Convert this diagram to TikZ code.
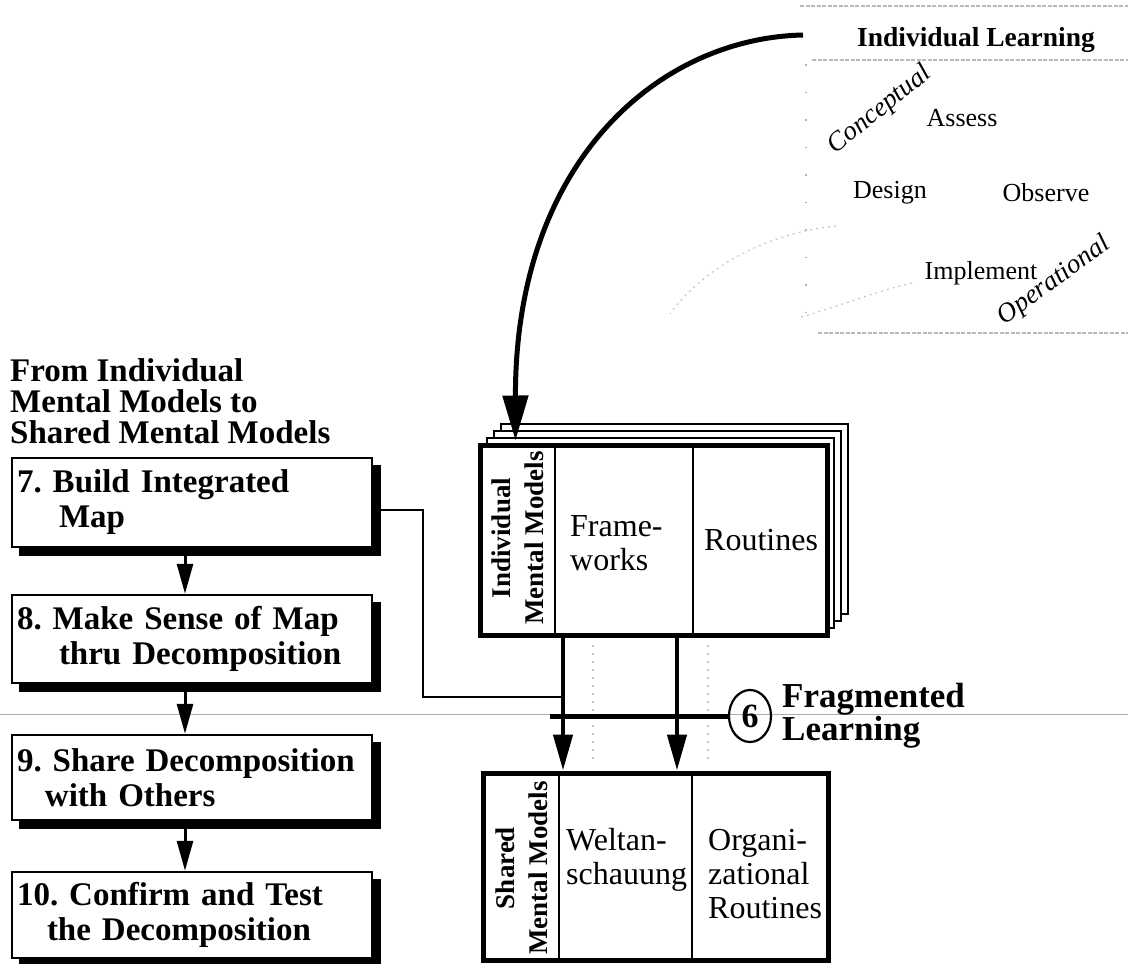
\documentclass[tikz,border=0pt]{standalone}
\usepackage{fontspec}
\setmainfont{Liberation Serif}
\usetikzlibrary{arrows.meta,shapes.geometric,backgrounds,calc}
\frenchspacing
\begin{document}
\begin{tikzpicture}[x=1pt,y=-1pt,
  stepbox/.style={draw,line width=2.5pt,fill=white,minimum width=360pt,
    text width=350pt,inner xsep=5pt,inner ysep=0pt,align=left,
    font=\bfseries\fontsize{33}{35}\selectfont},
  modelbox/.style={draw,line width=5pt,fill=white,inner sep=0pt},
  divider/.style={line width=2.5pt},
  layer/.style={draw,line width=1.4pt,fill=white},
  sidelabel/.style={rotate=90,align=center,inner sep=0pt,
    font=\bfseries\fontsize{27}{33}\selectfont},
  cell/.style={anchor=west,align=left,inner sep=0pt,
    font=\fontsize{32}{34}\selectfont},
  cycle/.style={inner sep=0pt,font=\fontsize{26}{28}\selectfont},
  mode/.style={inner sep=0pt,font=\itshape\fontsize{27}{28}\selectfont},
  smallarr/.style={line width=3pt,-{Triangle[length=30pt,width=16pt]}},
  bigarr/.style={line width=4.5pt,-{Triangle[length=36pt,width=19pt]}},
  curvearr/.style={line width=5pt,-{Triangle[length=45pt,width=25pt]}},
  conn/.style={line width=2.5pt},
  frameline/.style={gray!55,line width=1.2pt,dash pattern=on 4pt off 1.5pt},
  sparse/.style={gray!60,line width=1.2pt,dash pattern=on 1.5pt off 26pt},
  faint/.style={gray!45,line width=1.2pt,dash pattern=on 2pt off 4pt},
  ghost/.style={gray!45,line width=1.5pt,dash pattern=on 2pt off 6pt}]
\useasboundingbox (0,0) rectangle (1128,964);

% heading of the left column
\node[anchor=west,align=left,inner sep=0pt,
  font=\bfseries\fontsize{33}{31}\selectfont] (title) at (10,401)
  {From Individual\\Mental Models to\\Shared Mental Models};

% the four process steps
\node[stepbox,minimum height=89pt] (b7) at (192,502.5)
  {7. Build Integrated\\\hspace*{42pt}Map};
\node[stepbox,minimum height=88pt] (b8) at (192,639)
  {8. Make Sense of Map\\\hspace*{42pt}thru Decomposition};
\node[stepbox,minimum height=85pt] (b9) at (192,777.5)
  {9. Share Decomposition\\\hspace*{28pt}with Others};
\node[stepbox,minimum height=86pt] (b10) at (192,915)
  {10. Confirm and Test\\\hspace*{30pt}the Decomposition};

\draw[smallarr] ([xshift=-7pt,yshift=-8pt]b7.south) -- ([xshift=-7pt]b8.north);
\draw[smallarr] ([xshift=-7pt,yshift=-8pt]b8.south) -- ([xshift=-7pt]b9.north);
\draw[smallarr] ([xshift=-7pt,yshift=-8pt]b9.south) -- ([xshift=-7pt]b10.north);

% individual mental models
\node[modelbox,minimum width=347pt,minimum height=190pt] (imm) at (653.5,540) {};
\draw[divider] (555,445) -- (555,635);
\draw[divider] (693,445) -- (693,635);
\node[sidelabel] (immlab) at (518,538) {Individual\\Mental Models};
\node[cell] (frame) at (570,543) {Frame-\\works};
\node[cell] (rout) at (704,540) {Routines};

% shared mental models
\node[modelbox,minimum width=345pt,minimum height=187pt] (smm) at (655.5,866.5) {};
\draw[divider] (559,773) -- (559,960);
\draw[divider] (692,773) -- (692,960);
\node[sidelabel] (smmlab) at (522,868) {Shared\\Mental Models};
\node[cell] (welt) at (566,860) {Weltan-\\schauung};
\node[cell] (orgr) at (708,874) {Organi-\\zational\\Routines};

% transfer between the two levels
\coordinate (f1) at (563,0);
\coordinate (f2) at (677,0);
\draw[bigarr] (imm.south -| f1) -- (smm.north -| f1);
\draw[bigarr] (imm.south -| f2) -- (smm.north -| f2);
\draw[ghost] (593,645) -- (593,762);
\draw[ghost] (708,645) -- (708,762);

% fragmented learning
\node[ellipse,draw,line width=2.2pt,minimum width=42pt,minimum height=52pt,
  inner sep=0pt,font=\bfseries\fontsize{34}{34}\selectfont] (six) at (750,716) {6};
\coordinate (barL) at (550,716);
\draw[line width=5pt] (barL) -- (six.west);
\node[anchor=west,align=left,inner sep=0pt,
  font=\bfseries\fontsize{35}{33}\selectfont] (frag) at (782,716)
  {Fragmented\\Learning};

% link from step 7 into the transfer
\coordinate (join) at (563,697);
\draw[conn] ($(b7.east)+(8,7.5)$) -| (423,697) -- (join);

% individual learning cycle
\node[inner sep=0pt,font=\bfseries\fontsize{27.5}{28}\selectfont] (il) at (976,40)
  {Individual Learning};
\node[mode,rotate=39] (concept) at (880,110) {Conceptual};
\node[cycle] (assess) at (962,118) {Assess};
\node[cycle] (design) at (890,193) {Design};
\node[cycle] (observe) at (1046,193) {Observe};
\node[cycle] (impl) at (981,273) {Implement};
\node[mode,rotate=36] (oper) at (1054,281) {Operational};
\draw[frameline] (800,6) -- (1128,6);
\draw[frameline] (812,60) -- (1128,60);
\draw[frameline] (818,333) -- (1128,333);
\draw[sparse] (806,64) -- (806,330);
\draw[faint] (836,226) .. controls (760,234) and (700,272) .. (670,314);
\draw[faint] (912,283) .. controls (880,290) and (840,306) .. (798,318);

% from individual learning to the mental models
\coordinate (cs) at (803,35);
\draw[curvearr] (cs) .. controls (660,38) and (515,160) .. ([xshift=38pt,yshift=2pt]imm.north west);

% background: page rule, shadows, stacked sheets
\begin{scope}[on background layer]
  \draw[gray!65,line width=1pt] (0,714.5) -- (1128,714.5);
  \foreach \b in {b7,b8,b9,b10}
    \fill ([shift={(8pt,-8pt)}]\b.south west) rectangle ([shift={(8pt,-8pt)}]\b.north east);
  \foreach \k in {3,2,1}
    \draw[layer] (480+7*\k,445-7*\k) rectangle (827+7*\k,635-7*\k);
\end{scope}
\end{tikzpicture}
\end{document}
